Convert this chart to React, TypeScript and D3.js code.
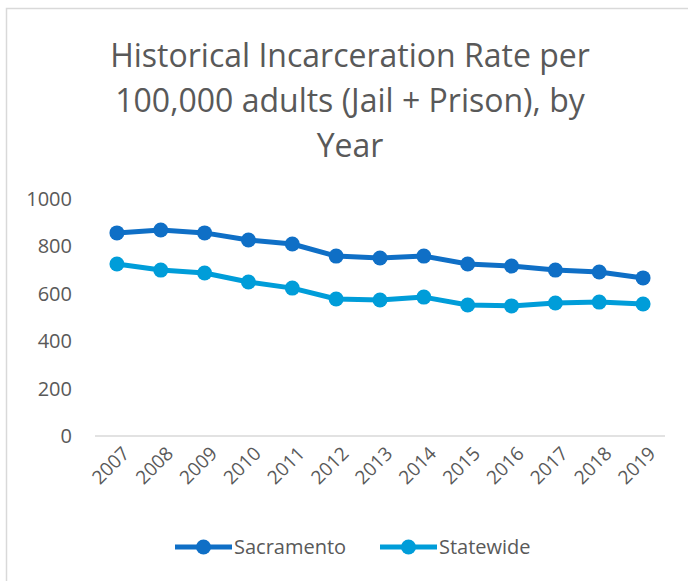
import React, { useEffect, useRef } from "react";
import * as d3 from "d3";

const years = ["2007", "2008", "2009", "2010", "2011", "2012", "2013", "2014", "2015", "2016", "2017", "2018", "2019"];
const sacramento = [857, 869, 857, 827, 810, 759, 751, 759, 726, 717, 700, 692, 667];
const statewide = [726, 700, 688, 650, 624, 578, 574, 586, 553, 549, 561, 565, 557];
const yTicks = [0, 200, 400, 600, 800, 1000];
const titleLines = ["Historical Incarceration Rate per", "100,000 adults (Jail + Prison), by", "Year"];

const seriesList = [
  { name: "Sacramento", values: sacramento, color: "#0F6FC6" },
  { name: "Statewide", values: statewide, color: "#009DD9" },
];

const App: React.FC = () => {
  const svgRef = useRef<SVGSVGElement | null>(null);

  useEffect(() => {
    const width = 688;
    const height = 581;
    const font = "'Open Sans', sans-serif";

    const svg = d3.select(svgRef.current);
    svg.selectAll("*").remove();

    svg.append("rect").attr("width", width).attr("height", height).attr("fill", "#fff");
    // chart frame
    svg
      .append("rect")
      .attr("x", 6.5)
      .attr("y", 8.5)
      .attr("width", width + 20)
      .attr("height", height + 20)
      .attr("fill", "none")
      .attr("stroke", "#d9d9d9")
      .attr("stroke-width", 1.5);

    // title
    svg
      .append("g")
      .selectAll("text")
      .data(titleLines)
      .join("text")
      .attr("x", 350)
      .attr("y", (_, i) => 67 + i * 45)
      .attr("text-anchor", "middle")
      .attr("font-family", font)
      .attr("font-size", 32)
      .attr("fill", "#595959")
      .text((d) => d);

    const x = d3.scaleBand<string>().domain(years).range([95, 665]);
    const y = d3.scaleLinear().domain([0, 1000]).range([436, 199]);
    const cx = (d: string) => x(d)! + x.bandwidth() / 2;

    // baseline
    svg
      .append("line")
      .attr("x1", 95)
      .attr("x2", 665)
      .attr("y1", y(0))
      .attr("y2", y(0))
      .attr("stroke", "#d9d9d9")
      .attr("stroke-width", 1.5);

    // y labels
    svg
      .append("g")
      .selectAll("text")
      .data(yTicks)
      .join("text")
      .attr("x", 72)
      .attr("y", (d) => y(d))
      .attr("dy", "0.35em")
      .attr("text-anchor", "end")
      .attr("font-family", font)
      .attr("font-size", 20)
      .attr("fill", "#595959")
      .text((d) => d);

    // x labels
    svg
      .append("g")
      .selectAll("text")
      .data(years)
      .join("text")
      .attr("transform", (d) => `translate(${cx(d) + 9},${y(0) + 14}) rotate(-45)`)
      .attr("text-anchor", "end")
      .attr("dy", "0.35em")
      .attr("font-family", font)
      .attr("font-size", 19)
      .attr("fill", "#595959")
      .text((d) => d);

    const line = d3
      .line<number>()
      .x((_, i) => cx(years[i]))
      .y((d) => y(d));

    seriesList.forEach((s) => {
      svg
        .append("path")
        .datum(s.values)
        .attr("fill", "none")
        .attr("stroke", s.color)
        .attr("stroke-width", 5)
        .attr("stroke-linejoin", "round")
        .attr("d", line);
      svg
        .append("g")
        .selectAll("circle")
        .data(s.values)
        .join("circle")
        .attr("cx", (_, i) => cx(years[i]))
        .attr("cy", (d) => y(d))
        .attr("r", 7.5)
        .attr("fill", s.color);
    });

    // legend
    const legendX = [175, 380];
    seriesList.forEach((s, i) => {
      const g = svg.append("g").attr("transform", `translate(${legendX[i]},547)`);
      g.append("line")
        .attr("x1", 0)
        .attr("x2", 57)
        .attr("stroke", s.color)
        .attr("stroke-width", 5);
      g.append("circle").attr("cx", 28.5).attr("r", 7.5).attr("fill", s.color);
      g.append("text")
        .attr("x", 59)
        .attr("dy", "0.35em")
        .attr("font-family", font)
        .attr("font-size", 20)
        .attr("fill", "#595959")
        .text(s.name);
    });
  }, []);

  return (
    <svg
      ref={svgRef}
      width={688}
      height={581}
      style={{ position: "absolute", left: 0, top: 0, display: "block" }}
    ></svg>
  );
};

export default App;
